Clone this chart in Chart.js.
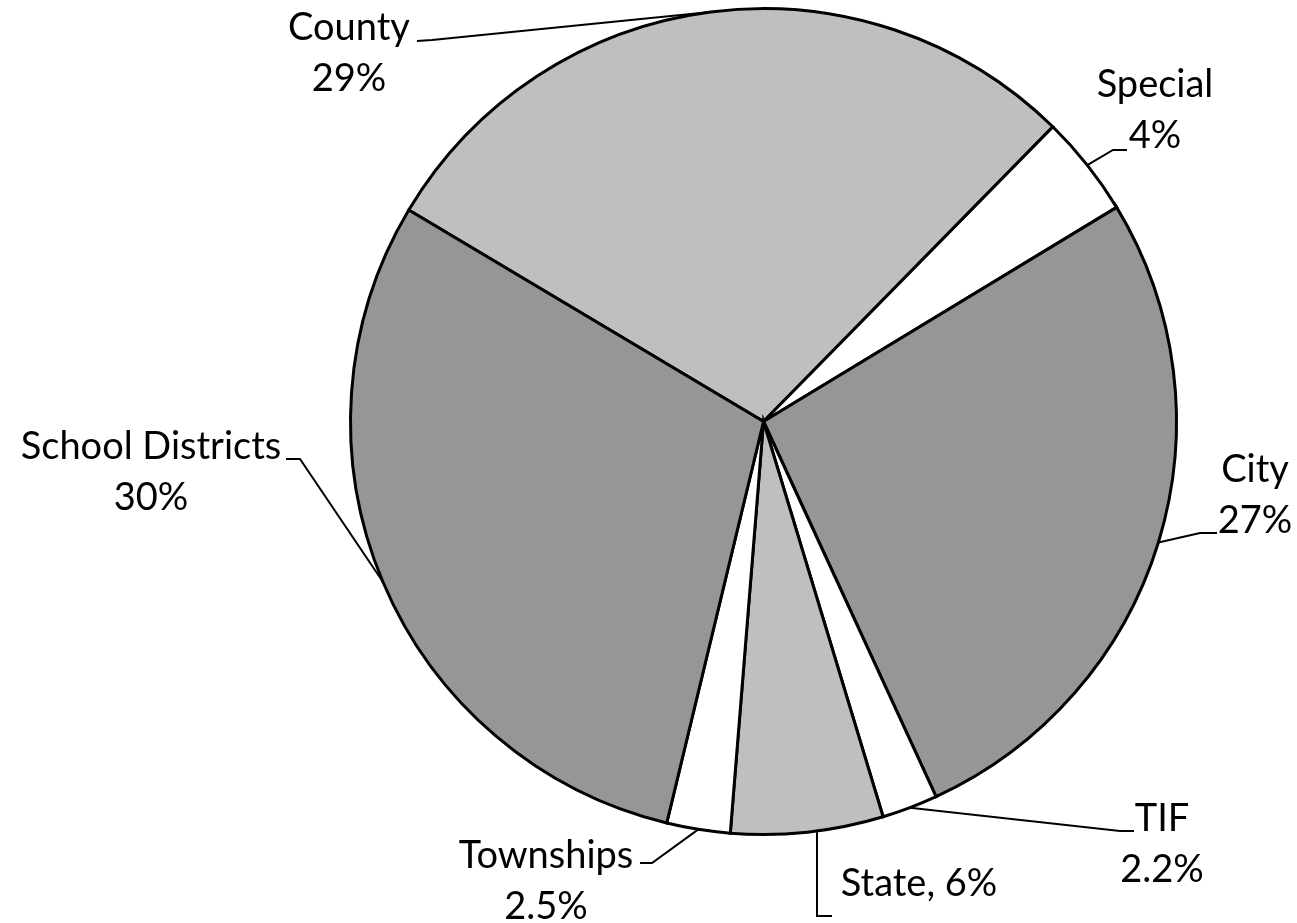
<!DOCTYPE html>
<html>
<head>
<meta charset="utf-8">
<script src="https://cdn.jsdelivr.net/npm/chart.js@4/dist/chart.umd.min.js"></script>
<style>
  html, body { margin: 0; padding: 0; background: #ffffff; }
  #wrap { width: 1297px; height: 923px; position: relative; }
</style>
</head>
<body>
<div id="wrap"><canvas id="pie" width="1297" height="923"></canvas></div>
<script>
// Share of the property tax levy by taxing unit (percent)
const categories = ['County', 'Special', 'City', 'TIF', 'State', 'Townships', 'School Districts'];
const shares     = [29, 4, 27, 2.2, 6, 2.5, 30];
const sliceColors = ['#bfbfbf', '#ffffff', '#969696', '#ffffff', '#bfbfbf', '#ffffff', '#969696'];

// Where each label sits: text centre x, first baseline y, whether the
// percentage goes on the same line, and the elbow of its leader line
// (lineStart = end next to the text, elbow = where the line turns toward the slice).
const labelLayout = [
  { x: 349,  y: 40,  inline: false, lineStart: [417, 41],  elbow: [432, 40]  },
  { x: 1155, y: 97,  inline: false, lineStart: [1127, 150], elbow: [1113, 150] },
  { x: 1255, y: 482, inline: false, lineStart: [1217, 533], elbow: [1200, 533] },
  { x: 1162, y: 831, inline: false, lineStart: [1134, 831], elbow: [1120, 831] },
  { x: 919,  y: 896, inline: true,  lineStart: [832, 916],  elbow: [817, 916]  },
  { x: 546,  y: 868, inline: false, lineStart: [640, 863],  elbow: [652, 863]  },
  { x: 151,  y: 459, inline: false, lineStart: [286, 459],  elbow: [300, 459]  }
];

const LABEL_FONT = '38px Lato, "Open Sans", sans-serif';
const LINE_GAP = 51;

const pieLabels = {
  id: 'pieLabels',
  afterDraw(chart) {
    const ctx = chart.ctx;
    const arcs = chart.getDatasetMeta(0).data;
    ctx.save();
    ctx.strokeStyle = '#000000';
    ctx.lineWidth = 2;
    ctx.lineJoin = 'miter';
    arcs.forEach((arc, i) => {
      const lay = labelLayout[i];
      const p = arc.getProps(['x', 'y', 'startAngle', 'endAngle', 'outerRadius'], true);
      const mid = (p.startAngle + p.endAngle) / 2;
      const ax = p.x + Math.cos(mid) * p.outerRadius;
      const ay = p.y + Math.sin(mid) * p.outerRadius;
      // leader line: text end -> elbow -> slice edge at its middle angle
      ctx.beginPath();
      ctx.moveTo(lay.lineStart[0], lay.lineStart[1]);
      ctx.lineTo(lay.elbow[0], lay.elbow[1]);
      if (lay.inline) {
        ctx.lineTo(lay.elbow[0], ay);
      } else {
        ctx.lineTo(ax, ay);
      }
      ctx.stroke();

      ctx.fillStyle = '#000000';
      ctx.font = LABEL_FONT;
      ctx.textAlign = 'center';
      ctx.textBaseline = 'alphabetic';
      const pct = shares[i] + '%';
      if (lay.inline) {
        ctx.fillText(categories[i] + ', ' + pct, lay.x, lay.y);
      } else {
        ctx.fillText(categories[i], lay.x, lay.y);
        ctx.fillText(pct, lay.x, lay.y + LINE_GAP);
      }
    });
    ctx.restore();
  }
};

new Chart(document.getElementById('pie'), {
  type: 'pie',
  data: {
    labels: categories,
    datasets: [{
      data: shares,
      backgroundColor: sliceColors,
      borderColor: '#000000',
      borderWidth: 3,
      borderJoinStyle: 'miter'
    }]
  },
  options: {
    responsive: false,
    animation: false,
    rotation: -59.2,
    layout: { padding: { left: 349, right: 119, top: 7, bottom: 87 } },
    plugins: {
      legend: { display: false },
      tooltip: { enabled: false },
      title: { display: false }
    }
  },
  plugins: [pieLabels]
});
</script>
</body>
</html>
